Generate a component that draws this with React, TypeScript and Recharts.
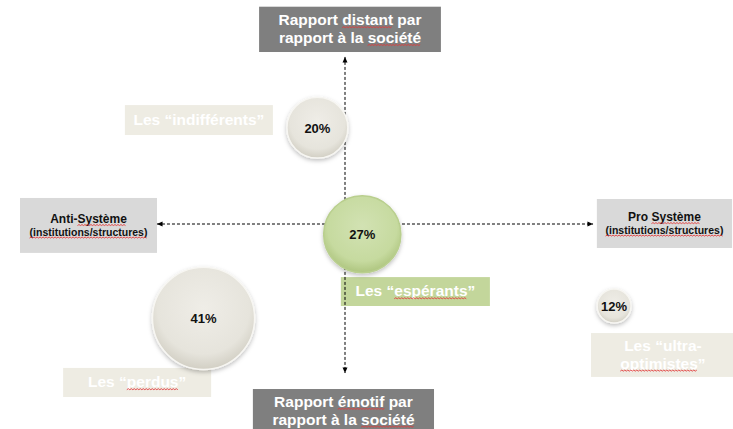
import React from 'react';
import { ScatterChart, Scatter, XAxis, YAxis, ZAxis, ReferenceLine, ReferenceArea, ReferenceDot } from 'recharts';

// segments of the "rapport à la société / rapport au système" map
const segments = ['Les “indifférents”', 'Les “espérants”', 'Les “perdus”', 'Les “ultra-optimistes”'];
const shares = [20, 27, 41, 12];
// x: anti-système (-) → pro-système (+) ; y: émotif (-) → distant (+)
const systemScores = [-0.8, 0.5, -4.1, 7.8];
const distanceScores = [4.7, -0.5, -4.6, -4.0];

const axisTop = ['Rapport distant par', 'rapport à la société'];
const axisBottom = ['Rapport émotif par', 'rapport à la société'];
const axisLeft = ['Anti-Système', '(institutions/structures)'];
const axisRight = ['Pro Système', '(institutions/structures)'];

const data = segments.map((name, i) => ({
  name,
  share: shares[i],
  x: systemScores[i],
  y: distanceScores[i],
}));

const FONT = '"Liberation Sans", Arial, sans-serif';
const HIGHLIGHT = 'Les “espérants”';

// layout of the annotation boxes (data units)
const boxes = [
  { key: 'top', x1: -2.49, x2: 2.78, y1: 10.6, y2: 8.39, fill: '#7f7f7f', color: '#fff', lines: axisTop, sizes: [15.5, 15.5], squiggle: [['distant'], ['société']] },
  { key: 'bottom', x1: -2.67, x2: 2.58, y1: -8.05, y2: -10.2, fill: '#7f7f7f', color: '#fff', lines: axisBottom, sizes: [15.5, 15.5], squiggle: [['émotif'], ['société']] },
  { key: 'left', x1: -9.42, x2: -5.45, y1: 1.27, y2: -1.41, fill: '#d9d9d9', color: '#111', lines: axisLeft, sizes: [12, 10.5], squiggle: [['Système'], ['(institutions/structures)']] },
  { key: 'right', x1: 7.3, x2: 11.22, y1: 1.22, y2: -1.17, fill: '#d9d9d9', color: '#111', lines: axisRight, sizes: [12, 10.5], squiggle: [['Système'], ['(institutions/structures)']] },
  { key: 'ind', x1: -6.38, x2: -2.09, y1: 5.8, y2: 4.34, fill: '#eeece3', color: '#fff', lines: ['Les “indifférents”'], sizes: [15.5], squiggle: [[]] },
  { key: 'esp', x1: -0.12, x2: 4.2, y1: -2.59, y2: -4.0, fill: '#c3d69b', color: '#fff', lines: ['Les “espérants”'], sizes: [15.5], squiggle: [['espérants']] },
  { key: 'per', x1: -8.17, x2: -3.88, y1: -7.02, y2: -8.44, fill: '#eeece3', color: '#fff', lines: ['Les “perdus”'], sizes: [15.5], squiggle: [['perdus']] },
  { key: 'ult', x1: 7.13, x2: 11.3, y1: -5.32, y2: -7.46, fill: '#eeece3', color: '#fff', lines: ['Les “ultra-', 'optimistes”'], sizes: [15.5, 15.5], squiggle: [[], ['optimistes']] },
];

let ctx: CanvasRenderingContext2D | null = null;
const measure = (s: string, size: number) => {
  if (!ctx) ctx = document.createElement('canvas').getContext('2d');
  if (!ctx) return s.length * size * 0.55;
  ctx.font = `bold ${size}px ${FONT}`;
  return ctx.measureText(s).width;
};

// red spell-check squiggle under a word
const wave = (x0: number, x1: number, y: number) => {
  let d = `M${x0},${y}`;
  let up = true;
  for (let x = x0 + 1.5; x <= x1; x += 1.5) {
    d += ` L${x},${y + (up ? -1 : 0)}`;
    up = !up;
  }
  return d;
};

const BoxShape = (box: any) => (p: any) => {
  const { x, y, width, height } = p;
  const total = box.sizes.reduce((a: number, b: number) => a + b * 1.15, 0);
  let cursor = y + height / 2 - total / 2;
  const cx = x + width / 2;
  return (
    <g>
      <rect x={x} y={y} width={width} height={height} fill={box.fill} />
      {box.lines.map((line: string, i: number) => {
        const size = box.sizes[i];
        cursor += size * 1.15;
        const base = cursor - size * 0.27;
        const full = measure(line, size);
        const marks = box.squiggle[i].map((w: string) => {
          const at = line.indexOf(w);
          if (at < 0) return null;
          const sx = cx - full / 2 + measure(line.slice(0, at), size);
          return <path key={w} d={wave(sx, sx + measure(w, size), base + 2.5)} stroke="#e23b3b" strokeWidth={0.9} fill="none" />;
        });
        return (
          <g key={i}>
            <text x={cx} y={base} textAnchor="middle" fill={box.color} fontFamily={FONT} fontWeight="bold" fontSize={size}>
              {line}
            </text>
            {marks}
          </g>
        );
      })}
    </g>
  );
};

const Bubble = (props: any) => {
  const { cx, cy, payload } = props;
  const r = props.width ? props.width / 2 : Math.sqrt((props.size || 0) / Math.PI);
  const green = payload.name === HIGHLIGHT;
  const id = 'g' + payload.share;
  return (
    <g>
      <defs>
        <radialGradient id={id} cx="50%" cy="40%" r="60%">
          <stop offset="0%" stopColor={green ? '#d2e2b3' : '#efede7'} />
          <stop offset="75%" stopColor={green ? '#c6da9f' : '#e6e4dc'} />
          <stop offset="100%" stopColor={green ? '#aec57f' : '#d2cfc4'} />
        </radialGradient>
        <filter id={'s' + id} x="-30%" y="-30%" width="160%" height="170%">
          <feDropShadow dx="0" dy="2" stdDeviation="2" floodColor="#000" floodOpacity="0.25" />
        </filter>
      </defs>
      <circle cx={cx} cy={cy} r={r} fill={`url(#${id})`} stroke={green ? '#b9cf8e' : '#f7f6f2'} strokeWidth={1.5}
        filter={`url(#s${id})`} />
      <text x={cx} y={cy + 5} textAnchor="middle" fontFamily={FONT} fontWeight="bold" fontSize={13} fill="#111">
        {payload.share}%
      </text>
    </g>
  );
};

const Arrow = (dir: 'up' | 'down' | 'left' | 'right') => (p: any) => {
  const { cx, cy } = p;
  const s = 4;
  const pts = {
    up: `${cx},${cy} ${cx - s / 1.6},${cy + s * 1.4} ${cx + s / 1.6},${cy + s * 1.4}`,
    down: `${cx},${cy} ${cx - s / 1.6},${cy - s * 1.4} ${cx + s / 1.6},${cy - s * 1.4}`,
    left: `${cx},${cy} ${cx + s * 1.4},${cy - s / 1.6} ${cx + s * 1.4},${cy + s / 1.6}`,
    right: `${cx},${cy} ${cx - s * 1.4},${cy - s / 1.6} ${cx - s * 1.4},${cy + s / 1.6}`,
  }[dir];
  return <polygon points={pts} fill="#000" />;
};

const H_START = -5.45, H_END = 7.19, V_TOP = 8.15, V_BOTTOM = -7.27;

export default function App() {
  return (
    <div style={{ width: 733, height: 429, background: '#fff' }}>
      <style>{'body{margin:0}'}</style>
      <ScatterChart width={733} height={429} margin={{ top: 19, right: 43, bottom: 0, left: 0 }}>
        <XAxis type="number" dataKey="x" domain={[-10, 10]} hide allowDataOverflow />
        <YAxis type="number" dataKey="y" domain={[-10, 10]} hide allowDataOverflow />
        <ZAxis type="number" dataKey="share" domain={[12, 41]} range={[900, 8200]} />
        <ReferenceLine segment={[{ x: H_START, y: 0 }, { x: H_END, y: 0 }]} stroke="#000" strokeDasharray="3 2" ifOverflow="visible" />
        <ReferenceLine segment={[{ x: 0, y: V_TOP }, { x: 0, y: V_BOTTOM }]} stroke="#000" strokeDasharray="3 2" ifOverflow="visible" />
        <ReferenceDot x={H_START} y={0} shape={Arrow('left')} ifOverflow="visible" />
        <ReferenceDot x={H_END} y={0} shape={Arrow('right')} ifOverflow="visible" />
        <ReferenceDot x={0} y={V_TOP} shape={Arrow('up')} ifOverflow="visible" />
        <ReferenceDot x={0} y={V_BOTTOM} shape={Arrow('down')} ifOverflow="visible" />
        {boxes.map((b) => (
          <ReferenceArea key={b.key} x1={b.x1} x2={b.x2} y1={b.y1} y2={b.y2} ifOverflow="visible" shape={BoxShape(b)} />
        ))}
        <Scatter data={data} shape={Bubble} isAnimationActive={false} />
      </ScatterChart>
    </div>
  );
}
